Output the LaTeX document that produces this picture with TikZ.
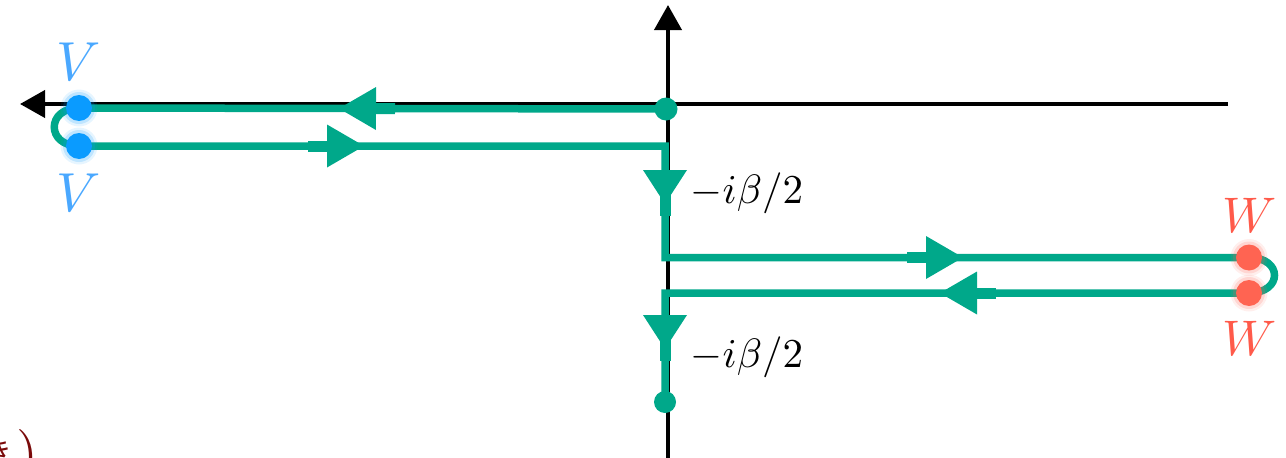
\documentclass[tikz,border=0pt]{standalone}
\usepackage{fontspec}
\newfontfamily\cjk{Noto Sans CJK JP}
\usetikzlibrary{arrows.meta,decorations.markings}
\definecolor{contour}{HTML}{00A88A}
\definecolor{vdot}{HTML}{0A9BFF}
\definecolor{vtext}{HTML}{4AA8FF}
\definecolor{wdot}{HTML}{FF6452}
\definecolor{wtext}{HTML}{FF5A4A}
\definecolor{darkred}{HTML}{7A0A0A}
\tikzset{
  axis/.style={line width=4pt, black, -{Triangle[length=25pt,width=27pt]}},
  contourline/.style={line width=7.5pt, contour},
  % arrowhead in the middle of a horizontal contour piece, with a short thick stub behind it
  harrow/.style={postaction={decorate}, decoration={markings,
      mark=at position #1 with {
        \fill[contour] (0pt,21.5pt) -- (37pt,0pt) -- (0pt,-21.5pt) -- cycle;
        \fill[contour] (-19pt,-5.5pt) rectangle (0pt,5.5pt);}}},
  % arrowhead on a vertical piece, the stub continuing past the tip
  varrow/.style={postaction={decorate}, decoration={markings,
      mark=at position #1 with {
        \fill[contour] (0pt,22pt) -- (34pt,0pt) -- (0pt,-22pt) -- cycle;
        \fill[contour] (20pt,-5.5pt) rectangle (46pt,5.5pt);}}},
  lab/.style={inner sep=0pt, anchor=base},
}
\begin{document}
\begin{tikzpicture}[x=1pt,y=-1pt]
\useasboundingbox (0,0) rectangle (1286,458);

% axes
\coordinate (xr) at (1228,104);
\coordinate (xl) at (20,104);
\coordinate (yb) at (668,458);
\coordinate (yt) at (668,5);
\draw[axis] (xr) -- (xl);
\draw[axis] (yb) -- (yt);

% contour points
\coordinate (O)  at (666,109);
\coordinate (Vt) at (79,108);
\coordinate (Vb) at (79,146);
\coordinate (C1) at (665,146);
\coordinate (C2) at (665,257.5);
\coordinate (Wt) at (1249,257.5);
\coordinate (Wb) at (1249,293);
\coordinate (C3) at (665,293);
\coordinate (E)  at (665,402);

% the contour
\draw[contourline] (O) -- (Vt) .. controls (46,108) and (46,146) .. (Vb)
  -- (C1) -- (C2) -- (Wt) .. controls (1283,257.5) and (1283,293) .. (Wb)
  -- (C3) -- (E);

% direction arrows
\path[harrow=290pt] (O) -- (Vt);
\path[harrow=248pt] (Vb) -- (C1);
\path[varrow=24pt] (C1) -- (C2);
\path[harrow=261pt] (C2) -- (Wt);
\path[harrow=272pt] (Wb) -- (C3);
\path[varrow=22pt] (C3) -- (E);

% end points of the contour
\fill[contour] (O) circle (11.5pt);
\fill[contour] (E) circle (11pt);

% operator insertions with a soft halo
\foreach \p in {Vt,Vb}{
  \fill[vdot,opacity=0.10] (\p) circle (18.5pt);
  \fill[vdot,opacity=0.18] (\p) circle (16pt);
  \fill[vdot] (\p) circle (13pt);
}
\foreach \p in {Wt,Wb}{
  \fill[wdot,opacity=0.10] (\p) circle (18.5pt);
  \fill[wdot,opacity=0.18] (\p) circle (16pt);
  \fill[wdot] (\p) circle (13pt);
}

% labels
\node[lab, scale=5.5, text=vtext] (vt) at (79,80)  {$V$};
\node[lab, scale=5.5, text=vtext] (vb) at (79,211) {$V$};
\node[lab, scale=5.0, text=wtext] (wt) at (1250,232) {$W$};
\node[lab, scale=5.0, text=wtext] (wb) at (1250,355) {$W$};
\node[inner sep=0pt, anchor=base west, scale=4.1] (b1) at (690,203) {$-i\beta/2$};
\node[inner sep=0pt, anchor=base west, scale=4.1] (b2) at (690,367) {$-i\beta/2$};

% caption fragment at the lower left edge
\node[inner sep=0pt, anchor=base west, scale=3, text=darkred, font=\cjk] (cap) at (-18.4,463) {き};
\node[inner sep=0pt, anchor=base west, scale=5.6, text=darkred] (paren) at (15.6,471) {)};
\end{tikzpicture}
\end{document}
